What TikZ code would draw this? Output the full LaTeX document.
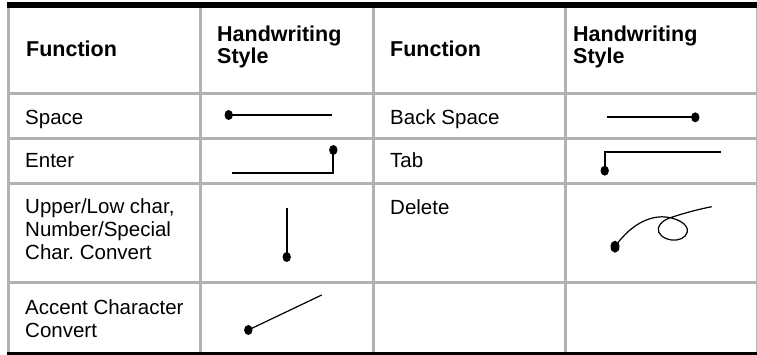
\documentclass[tikz,border=0pt]{standalone}
\usepackage{fontspec}
\setmainfont{Liberation Sans}
\usetikzlibrary{shapes.geometric}
\frenchspacing
\begin{document}
\begin{tikzpicture}[x=1pt, y=-1pt,
        grid/.style={draw=gray!60, line width=3pt},
        rule/.style={draw=black, line width=6pt},
        cell/.style={anchor=base west, inner sep=0pt, align=left,
            font=\fontsize{20.5}{22.7}\selectfont},
        head/.style={cell, font=\fontsize{21.5}{21.6}\selectfont\bfseries},
        pen/.style={line width=2pt},
        dot/.style={ellipse, fill, inner sep=0pt, minimum width=8.4pt, minimum height=10pt},
    ]
    \useasboundingbox (0,0) rectangle (757,354);
    \foreach \y in {93.5,138.5,183.5,282.5}
        \draw[grid] (7,\y) -- (760,\y);
    \foreach \x in {8.5,200.5,373.5,565.5,757}
        \draw[grid] (\x,5) -- (\x,354.5);
    \draw[rule] (7,5) -- (760,5);
    \draw[rule] (7,354.7) -- (760,354.7);
    \node[head] (fn1) at (26,56) {Function};
    \node[head] (hw1) at (217,63.3) {Handwriting\\Style};
    \node[head] (fn2) at (390,56) {Function};
    \node[head] (hw2) at (573,63.3) {Handwriting\\Style};
    \node[cell] (space) at (25,124) {Space};
    \node[cell] (enter) at (25,167) {Enter};
    \node[cell] (upper) at (25,259.3) {Upper/Low char,\\Number/Special\\Char. Convert};
    \node[cell] (accent) at (25,337.3) {Accent Character\\Convert};
    \node[cell] (bspace) at (390,124) {Back Space};
    \node[cell] (tab) at (390,167) {Tab};
    \node[cell] (delete) at (390,214) {Delete};
    \node[dot] (spdot) at (228.7,115) {};
    \coordinate (spend) at (331.7,115);
    \draw[pen] (spdot.center) -- (spend);
    \node[dot] (endot) at (333.3,150) {};
    \coordinate (enend) at (232.3,172.7);
    \draw[pen] (endot.center) |- (enend);
    \node[dot] (updot) at (286.7,257) {};
    \coordinate (upend) at (286.7,207.7);
    \draw[pen] (updot.center) -- (upend);
    \node[dot] (acdot) at (248.3,330) {};
    \coordinate (acend) at (321.7,295);
    \draw[line width=1.2pt] (acdot.center) -- (acend);
    \node[dot] (bsdot) at (695.3,117.3) {};
    \coordinate (bsend) at (607,117.3);
    \draw[pen] (bsdot.center) -- (bsend);
    \node[dot] (tbdot) at (604.7,170.7) {};
    \coordinate (tbend) at (721.3,152.3);
    \draw[pen] (tbdot.center) |- (tbend);
    \node[dot, minimum width=9pt, minimum height=12pt] (dldot) at (615,246.7) {};
    \coordinate (dlend) at (711.7,206.7);
    \draw[line width=1.2pt] (dldot.center) .. controls (628,228) and (645,217) .. (662,216.8)
        .. controls (676,217) and (689,224) .. (687.3,232)
        .. controls (686,238) and (678,241) .. (671.7,240)
        .. controls (664,239) and (657,234) .. (658.3,228)
        .. controls (660,222) and (666,219) .. (674,216.5)
        .. controls (688,212) and (700,209) .. (dlend);
\end{tikzpicture}
\end{document}
